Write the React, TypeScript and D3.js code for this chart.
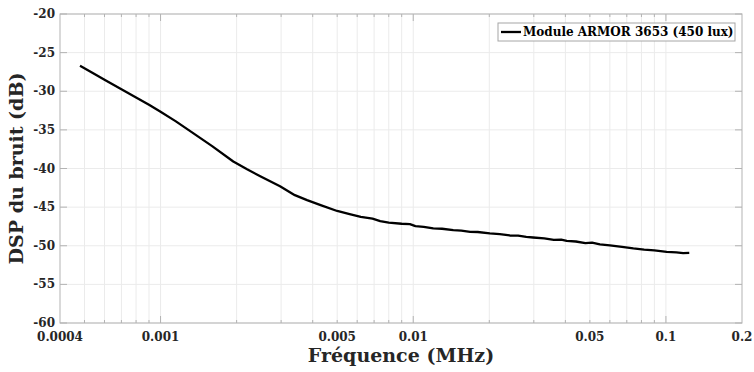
import React from "react";
import * as d3 from "d3";

const freqMHz = [
  0.00048, 0.00055, 0.0006, 0.0007, 0.0008, 0.0009, 0.001, 0.00115, 0.00135, 0.0016,
  0.00194, 0.0022, 0.00248, 0.00297, 0.0034, 0.0038, 0.0043, 0.005, 0.0056, 0.0062,
  0.0069, 0.0074, 0.008, 0.009, 0.0097, 0.0102, 0.011, 0.012, 0.013, 0.0144,
  0.0155, 0.0168, 0.018, 0.0201, 0.022, 0.0241, 0.026, 0.028, 0.0298, 0.033,
  0.036, 0.0385, 0.0405, 0.044, 0.048, 0.051, 0.0548, 0.06, 0.067, 0.0743,
  0.082, 0.09, 0.1007, 0.11, 0.117, 0.1237,
];
const dspDb = [
  -26.7, -27.8, -28.5, -29.75, -30.8, -31.75, -32.65, -33.9, -35.45, -37.1,
  -39.1, -40.1, -41.0, -42.3, -43.45, -44.1, -44.75, -45.5, -45.9, -46.25,
  -46.5, -46.8, -47.0, -47.15, -47.2, -47.45, -47.55, -47.75, -47.8, -47.98,
  -48.05, -48.2, -48.22, -48.4, -48.5, -48.67, -48.68, -48.85, -48.93, -49.05,
  -49.25, -49.2, -49.37, -49.45, -49.65, -49.6, -49.83, -49.95, -50.15, -50.35,
  -50.5, -50.6, -50.79, -50.85, -50.95, -50.92,
];

const xTickValues = [0.0004, 0.001, 0.005, 0.01, 0.05, 0.1, 0.2];
const xTickLabels = ["0.0004", "0.001", "0.005", "0.01", "0.05", "0.1", "0.2"];
const yTickValues = [-60, -55, -50, -45, -40, -35, -30, -25, -20];
const xMajorTicks = [0.001, 0.01, 0.1];
const xMinorTicks = [
  0.0005, 0.0006, 0.0007, 0.0008, 0.0009,
  0.002, 0.003, 0.004, 0.005, 0.006, 0.007, 0.008, 0.009,
  0.02, 0.03, 0.04, 0.05, 0.06, 0.07, 0.08, 0.09,
];
const seriesName = "Module ARMOR 3653 (450 lux)";
const xTitle = "Fréquence (MHz)";
const yTitle = "DSP du bruit (dB)";

const W = 754;
const H = 372;
const M = { left: 60, right: 12, top: 14, bottom: 49 };
const FONT = "'DejaVu Serif', serif";

export default function App() {
  const x = d3.scaleLog().domain([0.0004, 0.2]).range([M.left, W - M.right]);
  const y = d3.scaleLinear().domain([-60, -20]).range([H - M.bottom, M.top]);
  const x0 = M.left, x1 = W - M.right, y0 = M.top, y1 = H - M.bottom;
  const pts: [number, number][] = freqMHz.map((f, i) => [f, dspDb[i]]);
  const line = d3.line<[number, number]>().x((d) => x(d[0])).y((d) => y(d[1]));
  const gridColor = "#ebebeb";
  const axisColor = "#b3b3b3";
  const gridX = [...xMinorTicks, ...xMajorTicks];
  return (
    <svg width={W} height={H} style={{ position: "absolute", left: 0, top: 0, background: "#fff" }}>
      <rect x={0} y={0} width={W} height={H} fill="#fff" />
      {gridX.map((v, i) => (
        <line key={"gx" + i} x1={x(v)} x2={x(v)} y1={y0} y2={y1} stroke={gridColor} strokeWidth={1} />
      ))}
      {yTickValues.map((v, i) => (
        <line key={"gy" + i} x1={x0} x2={x1} y1={y(v)} y2={y(v)} stroke={gridColor} strokeWidth={1} />
      ))}
      {gridX.map((v, i) => {
        const len = xMajorTicks.includes(v) ? 7 : 3;
        return (
          <g key={"tx" + i}>
            <line x1={x(v)} x2={x(v)} y1={y1} y2={y1 - len} stroke={axisColor} />
            <line x1={x(v)} x2={x(v)} y1={y0} y2={y0 + len} stroke={axisColor} />
          </g>
        );
      })}
      {yTickValues.map((v, i) => (
        <g key={"ty" + i}>
          <line x1={x0} x2={x0 + 7} y1={y(v)} y2={y(v)} stroke={axisColor} />
          <line x1={x1} x2={x1 - 7} y1={y(v)} y2={y(v)} stroke={axisColor} />
        </g>
      ))}
      <rect x={x0} y={y0} width={x1 - x0} height={y1 - y0} fill="none" stroke={axisColor} strokeWidth={1} />
      <path d={line(pts) || ""} fill="none" stroke="#000" strokeWidth={2.3} strokeLinejoin="round" />
      {xTickValues.map((v, i) => (
        <text key={"lx" + i} x={x(v)} y={y1 + 18} textAnchor="middle" fontFamily={FONT} fontWeight="bold" fontSize={12} fill="#262626">
          {xTickLabels[i]}
        </text>
      ))}
      {yTickValues.map((v, i) => (
        <text key={"ly" + i} x={x0 - 5} y={y(v) + 4} textAnchor="end" fontFamily={FONT} fontWeight="bold" fontSize={12} fill="#262626">
          {String(v)}
        </text>
      ))}
      <text x={(x0 + x1) / 2} y={362} textAnchor="middle" fontFamily={FONT} fontWeight="bold" fontSize={19} fill="#262626">
        {xTitle}
      </text>
      <text transform={`translate(23, ${(y0 + y1) / 2}) rotate(-90)`} textAnchor="middle" fontFamily={FONT} fontWeight="bold" fontSize={19} fill="#262626">
        {yTitle}
      </text>
      <rect x={498} y={23} width={237} height={18} fill="#fff" stroke="#a6a6a6" strokeWidth={1} />
      <line x1={501} x2={521} y1={32} y2={32} stroke="#000" strokeWidth={2.3} />
      <text x={523} y={36} fontFamily={FONT} fontWeight="bold" fontSize={12} fill="#000">
        {seriesName}
      </text>
    </svg>
  );
}
